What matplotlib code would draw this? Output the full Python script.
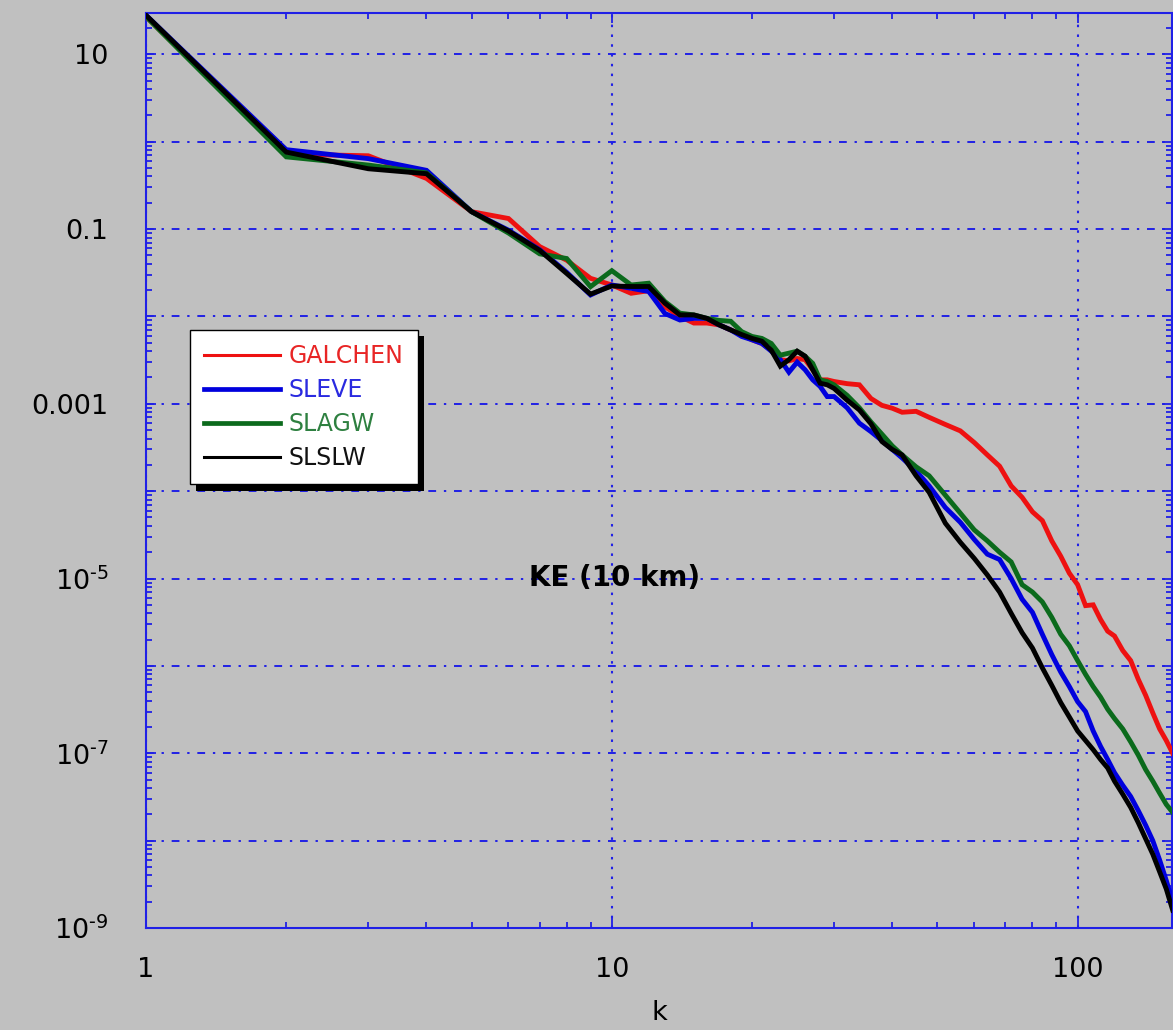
import numpy as np
import matplotlib.pyplot as plt
from matplotlib import patheffects
from matplotlib.lines import Line2D
from matplotlib.ticker import LogLocator, NullFormatter

plt.rcParams['font.family'] = ['DejaVu Sans']
plt.rcParams['mathtext.fontset'] = 'dejavusans'

# ---- data ----
k = [1, 2, 3, 4, 5, 6, 7, 8, 9, 10, 11, 12, 13, 14, 15, 16, 17, 18, 19, 20,
     21, 22, 23, 24, 25, 26, 27, 28, 29, 30, 32, 34, 36, 38, 40, 42, 45, 48,
     52, 56, 60, 64, 68, 72, 76, 80, 84, 88, 92, 96, 100, 104, 108, 112, 116,
     120, 125, 130, 135, 140, 145, 150, 155, 160]

galchen = [27, 0.72, 0.69, 0.38, 0.158, 0.132, 0.063, 0.044, 0.0273, 0.0229,
           0.0184, 0.0197, 0.0129, 0.0100, 0.0084, 0.0084, 0.0080, 0.0070,
           0.0062, 0.0054, 0.0049, 0.0041, 0.0032, 0.0031, 0.0033, 0.0032,
           0.00245, 0.00188, 0.00188, 0.00180, 0.00170, 0.00165, 0.00115,
           0.00096, 0.00089, 0.00080, 0.00082, 0.00070, 0.00058, 0.00049,
           0.00036, 0.00026, 1.93e-4, 1.15e-4, 8.5e-5, 5.8e-5, 4.6e-5, 2.7e-5,
           1.8e-5, 1.15e-5, 8.5e-6, 4.9e-6, 5.0e-6, 3.4e-6, 2.5e-6, 2.2e-6,
           1.5e-6, 1.15e-6, 7.0e-7, 4.6e-7, 2.9e-7, 1.9e-7, 1.4e-7, 1.0e-7]

sleve = [28, 0.81, 0.64, 0.47, 0.158, 0.097, 0.058, 0.032, 0.0176, 0.0229,
         0.021, 0.0193, 0.0108, 0.0091, 0.0095, 0.0095, 0.0080, 0.0070,
         0.0059, 0.0054, 0.0049, 0.0040, 0.0032, 0.0023, 0.0030, 0.00245,
         0.00188, 0.00158, 0.00121, 0.00121, 0.0009, 0.0006, 0.00048, 0.00038,
         0.00030, 0.00024, 1.7e-4, 1.15e-4, 6.5e-5, 4.4e-5, 2.8e-5, 1.9e-5,
         1.65e-5, 1.0e-5, 5.8e-6, 4.1e-6, 2.3e-6, 1.35e-6, 8.5e-7, 5.8e-7,
         3.9e-7, 3.0e-7, 1.8e-7, 1.2e-7, 8.5e-8, 6.0e-8, 4.3e-8, 3.2e-8,
         2.2e-8, 1.5e-8, 1.0e-8, 6.0e-9, 3.5e-9, 2.0e-9]

slagw = [27, 0.67, 0.54, 0.44, 0.158, 0.09, 0.052, 0.046, 0.0219, 0.0334,
         0.0229, 0.024, 0.0148, 0.0109, 0.0104, 0.0095, 0.0090, 0.0088,
         0.0067, 0.0059, 0.0056, 0.0049, 0.0036, 0.0038, 0.0040, 0.0035,
         0.0029, 0.00188, 0.00180, 0.00165, 0.00125, 0.00090, 0.00062,
         0.00045, 0.00033, 0.00026, 1.9e-4, 1.5e-4, 9.0e-5, 5.6e-5, 3.6e-5,
         2.7e-5, 2.0e-5, 1.55e-5, 8.5e-6, 7.0e-6, 5.4e-6, 3.6e-6, 2.3e-6,
         1.7e-6, 1.15e-6, 8.0e-7, 5.8e-7, 4.4e-7, 3.2e-7, 2.5e-7, 1.9e-7,
         1.35e-7, 9.5e-8, 6.5e-8, 4.8e-8, 3.5e-8, 2.6e-8, 2.1e-8]

slslw = [28, 0.76, 0.49, 0.43, 0.158, 0.095, 0.057, 0.031, 0.018, 0.0223,
         0.022, 0.022, 0.0142, 0.0104, 0.0104, 0.0095, 0.0080, 0.0070,
         0.0062, 0.0056, 0.0052, 0.0041, 0.0027, 0.0032, 0.0040, 0.0035,
         0.00245, 0.00172, 0.00165, 0.0015, 0.0011, 0.00085, 0.00059,
         0.00037, 0.00030, 0.00026, 1.5e-4, 9.7e-5, 4.3e-5, 2.6e-5, 1.7e-5,
         1.1e-5, 7.0e-6, 4.0e-6, 2.4e-6, 1.6e-6, 9.5e-7, 6.0e-7, 3.8e-7,
         2.6e-7, 1.8e-7, 1.4e-7, 1.1e-7, 8.5e-8, 6.8e-8, 4.8e-8, 3.4e-8,
         2.4e-8, 1.6e-8, 1.05e-8, 7e-9, 4.4e-9, 2.8e-9, 1.6e-9]

names = ['GALCHEN', 'SLEVE', 'SLAGW', 'SLSLW']
colors = ['#ee1111', '#0000dd', '#0b6a1c', '#000000']
text_colors = ['#e82525', '#2a2ae0', '#2e8040', '#111111']
legend_widths = [2.2, 3.4, 3.4, 2.2]

y_ticks = [1e1, 1, 1e-1, 1e-2, 1e-3, 1e-4, 1e-5, 1e-6, 1e-7, 1e-8, 1e-9]
y_labels = ['10', '', '0.1', '', '0.001', '', r'$\mathregular{10^{\text{-5}}}$', '',
            r'$\mathregular{10^{\text{-7}}}$', '', r'$\mathregular{10^{\text{-9}}}$']
x_ticks = [1, 10, 100]
x_labels = ['1', '10', '100']

bg = '#c0c0c0'
axcol = '#2020e6'

fig = plt.figure(figsize=(11.73, 10.30), dpi=100, facecolor=bg)
ax = fig.add_axes([0.1245, 0.099, 0.8747, 0.888], facecolor=bg)

series = [galchen, sleve, slagw, slslw]
for vals, c in zip(series, colors):
    ax.plot(k, vals, color=c, lw=3.5, solid_joinstyle='miter', zorder=3)

ax.set_xscale('log')
ax.set_yscale('log')
ax.set_xlim(1, 159.5)
ax.set_ylim(1e-9, 29.4)

ax.set_xticks(x_ticks)
ax.set_xticklabels(x_labels)
ax.xaxis.set_minor_locator(LogLocator(base=10, subs=np.arange(2, 10), numticks=50))
ax.xaxis.set_minor_formatter(NullFormatter())
ax.set_yticks(y_ticks)
ax.set_yticklabels(y_labels)
ax.yaxis.set_minor_locator(LogLocator(base=10, subs=np.arange(2, 10), numticks=50))
ax.yaxis.set_minor_formatter(NullFormatter())

ax.tick_params(which='both', direction='in', color=axcol, top=True, right=True,
               labelcolor='black', labelsize=19.5, width=1.3)
ax.tick_params(which='major', length=7)
ax.tick_params(which='minor', length=4.5)
ax.tick_params(axis='y', pad=27)
ax.tick_params(axis='x', pad=21)
for s in ax.spines.values():
    s.set_color(axcol)
    s.set_linewidth(1.5)

ax.set_axisbelow(True)
ax.yaxis.grid(True, which='major', color=axcol, lw=1.4, linestyle=(0, (4, 4, 1.2, 4)))
ax.xaxis.grid(True, which='major', color=axcol, lw=1.5, linestyle=(0, (1.2, 3.5)))

ax.set_xlabel('k', fontsize=19.5, labelpad=12)

ax.text(0.457, 0.3825, 'KE (10 km)', transform=ax.transAxes, fontsize=20,
        fontweight='bold', ha='center', va='center', zorder=4)

handles = [Line2D([], [], color=c, lw=w) for c, w in zip(colors, legend_widths)]
leg = ax.legend(handles, names, loc='upper left', bbox_to_anchor=(0.0429, 0.6536),
                borderaxespad=0, fontsize=17, handlelength=3.2, handletextpad=0.38,
                labelspacing=0.42, borderpad=0.6, fancybox=False, framealpha=1,
                edgecolor='black', facecolor='white')
leg.get_frame().set_linewidth(1.0)
leg.get_frame().set_path_effects([
    patheffects.SimplePatchShadow(offset=(4.5, -4.5), shadow_rgbFace='black', alpha=1),
    patheffects.Normal()])
for t, c in zip(leg.get_texts(), text_colors):
    t.set_color(c)
leg.set_zorder(5)

fig.savefig('out.png', dpi=100, facecolor=bg)
